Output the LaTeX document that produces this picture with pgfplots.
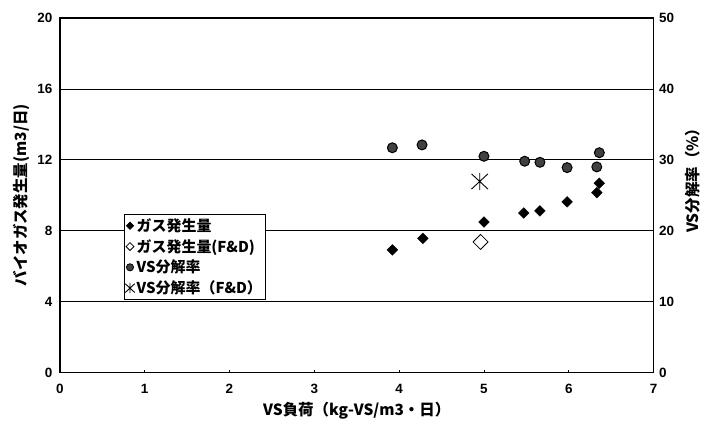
\documentclass[border=0pt]{standalone}
\usepackage{fontspec}
\setmainfont{Noto Sans CJK JP}
\newfontfamily\tickfont{Liberation Sans}[BoldFont={Liberation Sans Bold}]
\usepackage{pgfplots}
\pgfplotsset{compat=1.18}

\pgfdeclareplotmark{myast}{%
  \pgfpathmoveto{\pgfqpoint{0pt}{\pgfplotmarksize}}%
  \pgfpathlineto{\pgfqpoint{0pt}{-\pgfplotmarksize}}%
  \pgfpathmoveto{\pgfqpoint{-.95\pgfplotmarksize}{.88\pgfplotmarksize}}%
  \pgfpathlineto{\pgfqpoint{.95\pgfplotmarksize}{-.88\pgfplotmarksize}}%
  \pgfpathmoveto{\pgfqpoint{-.95\pgfplotmarksize}{-.88\pgfplotmarksize}}%
  \pgfpathlineto{\pgfqpoint{.95\pgfplotmarksize}{.88\pgfplotmarksize}}%
  \pgfusepathqstroke}

\pgfplotsset{
  base/.style={
    scale only axis, width=596pt, height=356pt,
    xmin=0, xmax=7, ymin=0,
    font=\bfseries\fontsize{15.5}{18}\selectfont,
    /pgf/number format/assume math mode=true,
    tick label style={font=\tickfont\bfseries\fontsize{13.5}{16}\selectfont},
    axis line style={line width=1.6pt},
    tick style={black, line width=0.6pt},
    major tick length=3pt,
  },
  gasstyle/.style={only marks, mark=square*, mark size=3.8pt,
    mark options={rotate=45, fill=black, draw=black}},
  gasfd/.style={only marks, mark=square, mark size=5.3pt,
    mark options={rotate=45, draw=black, fill=white, line width=0.8pt}},
  vsstyle/.style={only marks, mark=*, mark size=5pt,
    mark options={fill=black!75, draw=black, line width=1pt}},
  vsfd/.style={only marks, mark=myast, mark size=8.7pt,
    mark options={draw=black, line width=0.9pt}},
  lgas/.style={only marks, mark=square*, mark size=2.6pt,
    mark options={rotate=45, fill=black, draw=black}},
  lgasfd/.style={only marks, mark=square, mark size=2.8pt,
    mark options={rotate=45, draw=black, fill=white, line width=0.8pt}},
  lvs/.style={only marks, mark=*, mark size=3.6pt,
    mark options={fill=black!75, draw=black, line width=0.8pt}},
  lvsfd/.style={only marks, mark=myast, mark size=5pt,
    mark options={draw=black, line width=0.9pt}},
}

\begin{document}
\begin{tikzpicture}
\begin{axis}[base,
  ymax=20,
  xtick={0,1,...,7}, ytick={0,4,...,20},
  xtick pos=bottom, ytick pos=left,
  tick align=inside,
  ytick style={draw=none},
  ymajorgrids, grid style={black, line width=0.7pt},
  xticklabel style={yshift=-8pt},
  yticklabel style={xshift=-4pt},
  xlabel={VS負荷（kg-VS/m3・日）},
  ylabel={バイオガス発生量(m3/日)},
  every axis x label/.style={at={(axis description cs:0.5,-0.107)}, anchor=center},
  every axis y label/.style={at={(axis description cs:-0.0646,0.5)}, anchor=center, rotate=90},
  clip=false,
]
\addplot[gasstyle] coordinates {
 (3.92,6.92) (4.28,7.57) (5.00,8.49) (5.47,9.00) (5.66,9.12)
 (5.98,9.63) (6.33,10.15) (6.36,10.68)};
\addplot[gasfd] coordinates {(4.96,7.37)};
\path (rel axis cs:0,0) ++(-60pt,-49pt);
\path (rel axis cs:1,1) ++(47pt,18pt);
\end{axis}
\begin{axis}[base,
  ymax=50,
  axis x line=none,
  axis y line*=right,
  ytick={0,10,...,50},
  ytick style={draw=none},
  yticklabel style={xshift=2pt},
  ylabel={VS分解率（\%）},
  every axis y label/.style={at={(axis description cs:1.065,0.552)}, anchor=center, rotate=90},
  legend style={at={(axis description cs:0.108,0.4466)}, anchor=north west,
    draw=black, line width=0.7pt, fill=white, font=\bfseries\fontsize{15}{17}\selectfont,
    inner xsep=1pt, inner ysep=2pt, row sep=2.5pt,
    cells={anchor=west}},
  legend image code/.code={\draw plot coordinates {(0.1cm,0cm)};},
]
\addplot[vsstyle, forget plot] coordinates {
 (3.92,31.7) (4.27,32.1) (5.00,30.5) (5.48,29.8) (5.66,29.65)
 (5.98,28.9) (6.36,31.0) (6.33,29.0)};
\addplot[vsfd, forget plot] coordinates {(4.95,26.95)};
\addlegendimage{lgas}
\addlegendentry{ガス発生量}
\addlegendimage{lgasfd}
\addlegendentry{ガス発生量(F\&D)}
\addlegendimage{lvs}
\addlegendentry{VS分解率}
\addlegendimage{lvsfd}
\addlegendentry{VS分解率（F\&D）}
\end{axis}
\end{tikzpicture}
\end{document}
